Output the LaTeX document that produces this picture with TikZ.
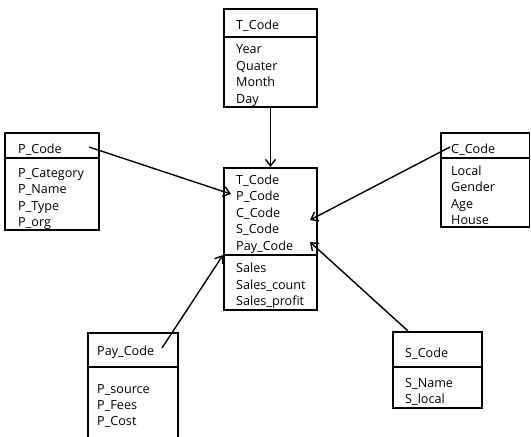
\documentclass[tikz,border=0pt]{standalone}
\usepackage{fontspec}
\setmainfont{Open Sans}
\usetikzlibrary{arrows.meta}
\begin{document}
\begin{tikzpicture}[x=1pt,y=-1pt,
  box/.style={draw, line width=1.4pt, rectangle, anchor=north west, inner sep=0pt, outer sep=0pt},
  txt/.style={anchor=base west, inner sep=0pt, font=\fontsize{12.6}{14}\selectfont},
  divider/.style={line width=1.4pt},
  conn/.style={line width=1.4pt, -{Straight Barb[length=6.5pt,width=10pt,line width=1.4pt]}}]
\useasboundingbox (0,0) rectangle (531,437);
\clip (0,0) rectangle (531,437);
% T box
\node[box, minimum width=93pt, minimum height=98pt] (T) at (224,9) {};
\draw[divider] (224,37) -- (317,37);
\node[txt] (th) at (236,29) {T\_Code};
\node[txt] (t1) at (236,53) {Year};
\node[txt] (t2) at (236,70) {Quater};
\node[txt] (t3) at (236,86.5) {Month};
\node[txt] (t4) at (236,103) {Day};
% center box
\node[box, minimum width=93pt, minimum height=142pt] (F) at (224,168) {};
\draw[divider] (224,255) -- (317,255);
\node[txt] (f1) at (236,184) {T\_Code};
\node[txt] (f2) at (236,200.5) {P\_Code};
\node[txt] (f3) at (236,217) {C\_Code};
\node[txt] (f4) at (236,233.5) {S\_Code};
\node[txt] (f5) at (236,250) {Pay\_Code};
\node[txt] (f6) at (236,272) {Sales};
\node[txt] (f7) at (236,289) {Sales\_count};
\node[txt] (f8) at (236,305) {Sales\_profit};
% P box
\node[box, minimum width=94pt, minimum height=97pt] (P) at (5,133) {};
\draw[divider] (5,158) -- (99,158);
\node[txt] (ph) at (18,153) {P\_Code};
\node[txt] (p1) at (18,177) {P\_Category};
\node[txt] (p2) at (18,193.5) {P\_Name};
\node[txt] (p3) at (18,210) {P\_Type};
\node[txt] (p4) at (18,226) {P\_org};
% C box
\node[box, minimum width=88.5pt, minimum height=94pt] (C) at (441,133) {};
\draw[divider] (441,158) -- (529.5,158);
\node[txt] (ch) at (451,153) {C\_Code};
\node[txt] (c1) at (451,175) {Local};
\node[txt] (c2) at (451,191.5) {Gender};
\node[txt] (c3) at (451,208) {Age};
\node[txt] (c4) at (451,224) {House};
% Pay box
\node[box, minimum width=90pt, minimum height=117pt] (Y) at (88,333) {};
\draw[divider] (88,367) -- (178,367);
\node[txt] (yh) at (97,355) {Pay\_Code};
\node[txt] (y1) at (97,393) {P\_source};
\node[txt] (y2) at (97,409) {P\_Fees};
\node[txt] (y3) at (97,425) {P\_Cost};
% S box
\node[box, minimum width=89pt, minimum height=76pt] (S) at (393,332) {};
\draw[divider] (393,367) -- (482,367);
\node[txt] (sh) at (405,357) {S\_Code};
\node[txt] (s1) at (405,387) {S\_Name};
\node[txt] (s2) at (405,403) {S\_local};
% connector ends
\coordinate (tS) at (270.5,107);
\coordinate (tE) at (270.5,167);
\coordinate (pS) at (89,147);
\coordinate (pE) at (231,194);
\coordinate (cS) at (450,147);
\coordinate (cE) at (310,220);
\coordinate (yS) at (162,348);
\coordinate (yE) at (223,255);
\coordinate (sS) at (408,331);
\coordinate (sE) at (310,242);
\draw[conn] (tS) -- (tE);
\draw[conn] (pS) -- (pE);
\draw[conn] (cS) -- (cE);
\draw[conn] (yS) -- (yE);
\draw[conn] (sS) -- (sE);
\end{tikzpicture}
\end{document}
